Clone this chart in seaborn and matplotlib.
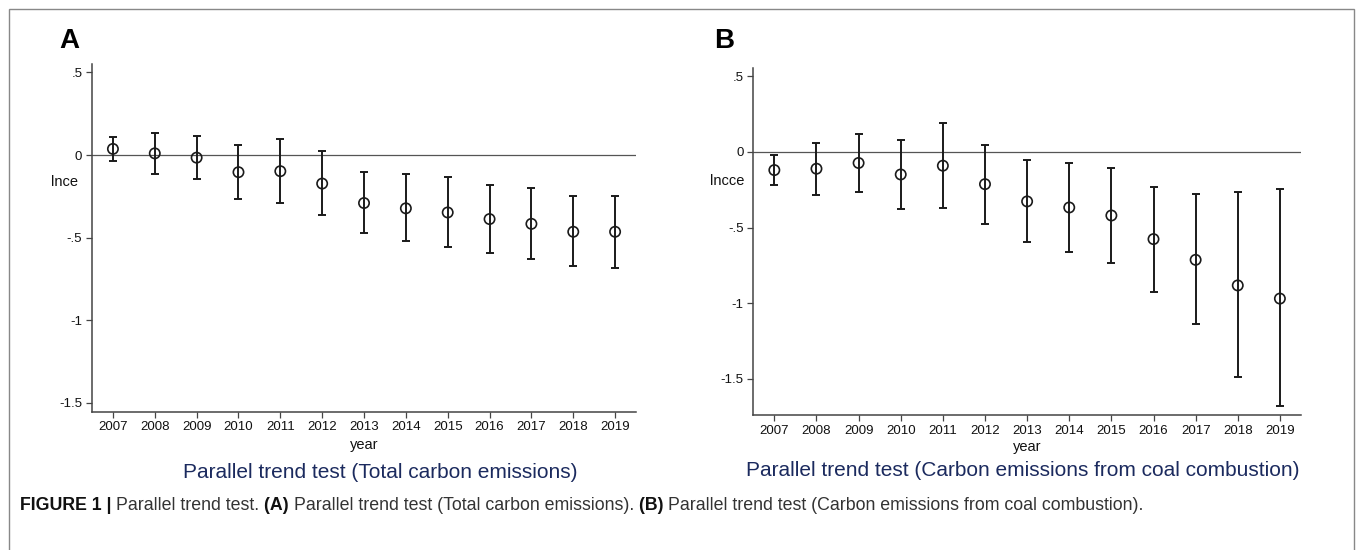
import matplotlib
matplotlib.use("Agg")
import numpy as np
import pandas as pd
import matplotlib.pyplot as plt
import seaborn as sns
from matplotlib.patches import Rectangle

# event-study estimates
years = [2007, 2008, 2009, 2010, 2011, 2012, 2013, 2014, 2015, 2016, 2017, 2018, 2019]

coef_a = [0.037, 0.010, -0.016, -0.104, -0.098, -0.173, -0.291, -0.323, -0.348, -0.388, -0.417, -0.465, -0.465]
low_a = [-0.035, -0.114, -0.148, -0.264, -0.289, -0.366, -0.474, -0.522, -0.555, -0.593, -0.632, -0.675, -0.683]
high_a = [0.108, 0.134, 0.114, 0.063, 0.098, 0.022, -0.102, -0.118, -0.136, -0.179, -0.199, -0.250, -0.248]

coef_b = [-0.120, -0.111, -0.073, -0.149, -0.091, -0.213, -0.327, -0.367, -0.420, -0.576, -0.713, -0.882, -0.969]
low_b = [-0.218, -0.282, -0.267, -0.376, -0.373, -0.476, -0.593, -0.658, -0.731, -0.923, -1.140, -1.489, -1.682]
high_b = [-0.018, 0.060, 0.118, 0.082, 0.191, 0.049, -0.056, -0.073, -0.104, -0.229, -0.280, -0.264, -0.244]

ytick_vals = [0.5, 0, -0.5, -1, -1.5]
ytick_text = [".5", "0", "-.5", "-1", "-1.5"]

sns.set_style("white")
plt.rcParams["font.family"] = ["Liberation Sans", "DejaVu Sans"]

fig = plt.figure(figsize=(13.57, 5.5), dpi=100)

panels = [
    dict(pos=[0.0678, 0.2515, 0.4009, 0.632], coef=coef_a, low=low_a, high=high_a,
         ylim=(-1.555, 0.551), ylabel="lnce", letter="A",
         title="Parallel trend test (Total carbon emissions)",
         letter_xy=(69, 41), ylab_xy=(65, 182), year_y=445, title_xy=(380, 472)),
    dict(pos=[0.5551, 0.2455, 0.4036, 0.631], coef=coef_b, low=low_b, high=high_b,
         ylim=(-1.738, 0.555), ylabel="lncce", letter="B",
         title="Parallel trend test (Carbon emissions from coal combustion)",
         letter_xy=(724, 41), ylab_xy=(727, 181), year_y=447, title_xy=(1023, 471)),
]

W, H = 1357.0, 550.0

for p in panels:
    ax = fig.add_axes(p["pos"])
    df = pd.DataFrame({"year": years, "coef": p["coef"], "low": p["low"], "high": p["high"]})
    yerr = [df["coef"] - df["low"], df["high"] - df["coef"]]
    ax.axhline(0, color="#555555", lw=0.9, zorder=1)
    ax.errorbar(df["year"], df["coef"], yerr=yerr, fmt="none", ecolor="#1a1a1a",
                elinewidth=1.4, capsize=3, capthick=1.4, zorder=2)
    sns.scatterplot(data=df, x="year", y="coef", ax=ax, marker="o", s=55,
                    facecolor="none", edgecolor="#1a1a1a", linewidth=1.2, zorder=3)
    ax.set_xlim(2006.5, 2019.5)
    ax.set_ylim(*p["ylim"])
    ax.set_xticks(years)
    ax.set_xticklabels([str(y) for y in years], fontsize=9.5)
    ax.set_yticks(ytick_vals)
    ax.set_yticklabels(ytick_text, fontsize=9.5)
    ax.set_xlabel("")
    ax.set_ylabel("")
    for s in ["top", "right"]:
        ax.spines[s].set_visible(False)
    for s in ["left", "bottom"]:
        ax.spines[s].set_color("#444444")
        ax.spines[s].set_linewidth(1.1)
    ax.tick_params(axis="both", which="major", direction="out", length=4, width=0.9,
                   color="#444444", labelcolor="#111111", pad=3, left=True, bottom=True)

    xc = p["pos"][0] + p["pos"][2] * (2013 - 2006.5) / 13
    fig.text(p["letter_xy"][0] / W, 1 - p["letter_xy"][1] / H, p["letter"],
             fontsize=20, fontweight="bold", ha="center", va="center", color="#000000")
    fig.text(p["ylab_xy"][0] / W, 1 - p["ylab_xy"][1] / H, p["ylabel"],
             fontsize=10.5, ha="center", va="center", color="#111111")
    fig.text(xc, 1 - p["year_y"] / H, "year", fontsize=10.5, ha="center", va="center",
             color="#111111")
    fig.text(p["title_xy"][0] / W, 1 - p["title_xy"][1] / H, p["title"],
             fontsize=15, ha="center", va="center", color="#1b2a5e")

# outer frame
fig.patches.append(Rectangle((9 / W, -0.01), (1354 - 9) / W, 1 - 9 / H + 0.01,
                             transform=fig.transFigure, fill=False,
                             edgecolor="#888888", lw=1.0))

# caption with bold pieces
pieces = [
    ("FIGURE 1 | ", "bold", "#111111"),
    ("Parallel trend test. ", "normal", "#333333"),
    ("(A) ", "bold", "#111111"),
    ("Parallel trend test (Total carbon emissions). ", "normal", "#333333"),
    ("(B) ", "bold", "#111111"),
    ("Parallel trend test (Carbon emissions from coal combustion).", "normal", "#333333"),
]
fig.canvas.draw()
renderer = fig.canvas.get_renderer()
x = 20 / W
y = 1 - 505 / H
for txt, wt, col in pieces:
    t = fig.text(x, y, txt, fontsize=12.8, fontweight=wt, color=col,
                 ha="left", va="center")
    bb = t.get_window_extent(renderer=renderer)
    x += bb.width / fig.bbox.width

fig.savefig("out.png", dpi=100)
